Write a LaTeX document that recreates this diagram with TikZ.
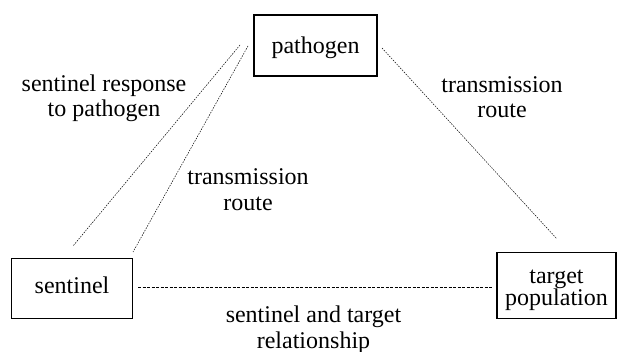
\documentclass[tikz,border=0pt]{standalone}
\usepackage{fontspec}
\setmainfont{Liberation Serif}
\begin{document}
\begin{tikzpicture}[x=1pt,y=-1pt,
  box/.style={draw,line width=1.8pt,inner sep=0pt,align=center},
  lbl/.style={inner sep=0pt,align=center,anchor=base},
  link/.style={line width=0.5pt,dash pattern=on 1.5pt off 1.2pt},
  hlink/.style={line width=0.5pt,dash pattern=on 3pt off 1.5pt}]
\fontsize{24}{26}\selectfont
\useasboundingbox (0,0) rectangle (617,352);
\node[box,minimum width=123pt,minimum height=61pt,text height=18pt,text depth=2.4pt] (pathogen) at (315.5,45.5) {pathogen};
\node[box,minimum width=121pt,minimum height=60pt,text height=14pt,text depth=4.4pt] (sentinel) at (72,288.5) {sentinel};
\node[box,minimum width=119pt,minimum height=66pt,text height=40pt,text depth=1pt] (target) at (556.5,285.5) {target\\[-4pt]population};
\coordinate (a1) at (240,45);
\coordinate (a2) at (73,246);
\coordinate (b1) at (248,46);
\coordinate (b2) at (133,252);
\coordinate (c1) at (382,48);
\coordinate (c2) at (557,239);
\coordinate (d1) at (138,287);
\coordinate (d2) at (492,287);
\draw[link] (a1) -- (a2);
\draw[link] (b1) -- (b2);
\draw[link] (c1) -- (c2);
\draw[hlink] (d1) -- (d2);
\node[lbl] (l1) at (104,116.7) {sentinel response\\[-1pt]to pathogen};
\node[lbl] (l2) at (248,211) {transmission\\route};
\node[lbl] (l3) at (502,118) {transmission\\[-1pt]route};
\node[lbl] (l4) at (313.5,348) {sentinel and target\\relationship};
\end{tikzpicture}
\end{document}
